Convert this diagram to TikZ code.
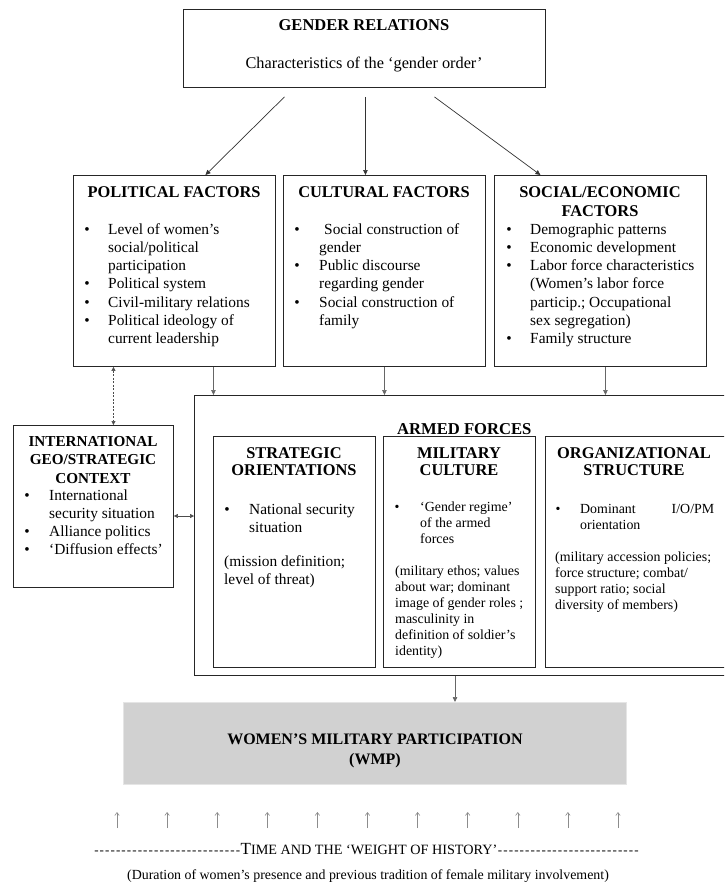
\documentclass[tikz,border=0pt]{standalone}
\usepackage{fontspec}
\setmainfont{Liberation Serif}
\usetikzlibrary{arrows.meta}

\newcommand\bodyf{\fontsize{15.4}{18.3}\selectfont}
\newcommand\smallf{\fontsize{13.9}{16}\selectfont}
\newcommand\titlef{\fontsize{16.4}{17.5}\selectfont\bfseries}
\newcommand\intlf{\fontsize{15.2}{18.5}\selectfont\bfseries}
\newcommand\dashrun[1]{\hbox to #1{\fontsize{13}{13}\selectfont\xleaders\hbox{\kern0.55pt-\kern0.55pt}\hfill}}

\begin{document}
\begin{tikzpicture}[x=1pt,y=-1pt,
  box/.style={draw=black!85, line width=0.9pt, inner sep=0pt, anchor=north west},
  txt/.style={inner sep=0pt, anchor=base west, align=left, font=\bodyf},
  stxt/.style={inner sep=0pt, anchor=base west, align=left, font=\smallf},
  ttl/.style={inner sep=0pt, anchor=base, align=center, font=\titlef},
  bul/.style={inner sep=0pt, anchor=base, font=\bodyf},
  sbul/.style={inner sep=0pt, anchor=base, font=\smallf},
  arr/.style={-{Triangle[length=5pt,width=4.5pt]}, line width=0.7pt, draw=black!80},
  varr/.style={-{Triangle[length=5pt,width=4.5pt]}, line width=0.7pt, draw=black!60},
  darr/.style={{Triangle[length=4pt,width=4pt]}-{Triangle[length=4pt,width=4pt]}, line width=0.5pt, draw=black!70},
  uarr/.style={-{Straight Barb[length=3pt,width=4.5pt]}, line width=0.6pt, draw=black!45},
]
\useasboundingbox (0,0) rectangle (724,884);
\clip (0,0) rectangle (724,884);

% (multi-line text nodes are placed by the baseline of their LAST line)

% ---------------- boxes ----------------
\node[box, minimum width=362pt, minimum height=78pt] (gender) at (183,9) {};
\node[box, minimum width=202pt, minimum height=191pt] (pol) at (73,175) {};
\node[box, minimum width=202pt, minimum height=191pt] (cul) at (283,175) {};
\node[box, minimum width=212pt, minimum height=191pt] (soc) at (494,175) {};
\node[box, minimum width=160pt, minimum height=162pt] (intl) at (13,425) {};
\node[box, minimum width=540pt, minimum height=280pt] (armed) at (194,395) {};
\node[box, minimum width=162pt, minimum height=231pt] (strat) at (213,436) {};
\node[box, minimum width=152pt, minimum height=231pt] (milc) at (383,436) {};
\node[box, minimum width=185pt, minimum height=231pt] (org) at (545,436) {};
\node[anchor=north west, inner sep=0pt, fill=black!18, draw=black!10, line width=0.6pt,
      minimum width=503pt, minimum height=82pt] (wmp) at (123,702) {};

% ---------------- gender relations ----------------
\node[ttl, font=\fontsize{16.5}{17}\selectfont\bfseries] (gt) at (364,30) {GENDER RELATIONS};
\node[inner sep=0pt, anchor=base, font=\fontsize{16.3}{17}\selectfont] (gs) at (364,68) {Characteristics of the ‘gender order’};

% ---------------- political ----------------
\node[ttl] (polt) at (174,197) {POLITICAL FACTORS};
\node[txt] (poltx) at (108,343.8) {Level of women’s\\social/political\\participation\\Political system\\Civil-military relations\\Political ideology of\\current leadership};
\node[bul] (pb1) at (87,234) {\textbullet};
\node[bul] (pb2) at (87,288.9) {\textbullet};
\node[bul] (pb3) at (87,307.2) {\textbullet};
\node[bul] (pb4) at (87,325.5) {\textbullet};

% ---------------- cultural ----------------
\node[ttl] (cult) at (384,197) {CULTURAL FACTORS};
\node[txt] (cultx) at (319,325.5) {\hspace*{5pt}Social construction of\\gender\\Public discourse\\regarding gender\\Social construction of\\family};
\node[bul] (cb1) at (297,234) {\textbullet};
\node[bul] (cb2) at (297,270.6) {\textbullet};
\node[bul] (cb3) at (297,307.2) {\textbullet};

% ---------------- social/economic ----------------
\node[ttl, font=\fontsize{16.4}{19}\selectfont\bfseries] (soct) at (600,216) {SOCIAL/ECONOMIC\\FACTORS};
\node[txt] (soctx) at (530,343.8) {Demographic patterns\\Economic development\\Labor force characteristics\\(Women’s labor force\\particip.; Occupational\\sex segregation)\\Family structure};
\node[bul] (sb1) at (509,234) {\textbullet};
\node[bul] (sb2) at (509,252.3) {\textbullet};
\node[bul] (sb3) at (509,270.6) {\textbullet};
\node[bul] (sb4) at (509,343.8) {\textbullet};

% ---------------- international ----------------
\node[ttl, font=\intlf] (intlt) at (93,483) {INTERNATIONAL\\GEO/STRATEGIC\\CONTEXT};
\node[txt] (intltx) at (49,554.9) {International\\security situation\\Alliance politics\\‘Diffusion effects’};
\node[bul] (ib1) at (27,500) {\textbullet};
\node[bul] (ib2) at (27,536.6) {\textbullet};
\node[bul] (ib3) at (27,554.9) {\textbullet};

% ---------------- armed forces ----------------
\node[inner sep=0pt, anchor=base west, font=\fontsize{16.6}{17}\selectfont\bfseries] (armt) at (397,434) {ARMED FORCES};

% strategic
\node[ttl] (stt) at (294,475.5) {STRATEGIC\\ORIENTATIONS};
\node[txt] (sttx) at (249,532.3) {National security\\situation};
\node[bul] (stb) at (227,514) {\textbullet};
\node[txt] (stp) at (224,584.3) {(mission definition;\\level of threat)};

% military culture
\node[ttl] (mct) at (459,475.5) {MILITARY\\CULTURE};
\node[stxt] (mctx) at (420,543) {‘Gender regime’\\of the armed\\forces};
\node[sbul] (mcb) at (397,511) {\textbullet};
\node[stxt] (mcp) at (395,655) {(military ethos; values\\about war; dominant\\image of gender roles ;\\masculinity in\\definition of soldier’s\\identity)};

% organizational structure
\node[ttl] (ost) at (634,475.5) {ORGANIZATIONAL\\STRUCTURE};
\node[stxt] (ostx) at (580,529) {\hbox to 134pt{Dominant\hfill I/O/PM}\\orientation};
\node[sbul] (osb) at (558,513) {\textbullet};
\node[stxt] (osp) at (555,609) {(military accession policies;\\force structure; combat/\\support ratio; social\\diversity of members)};

% ---------------- WMP ----------------
\node[ttl, font=\fontsize{16}{20}\selectfont\bfseries] (wmpt) at (375,764) {WOMEN’S MILITARY PARTICIPATION\\(WMP)};

% ---------------- time ----------------
\node[inner sep=0pt, anchor=base] (time) at (366.5,854)
  {\dashrun{147pt}{\fontsize{17}{17}\selectfont T}{\fontsize{14.2}{14}\selectfont IME AND THE ‘WEIGHT OF HISTORY’}\dashrun{142pt}};
\node[inner sep=0pt, anchor=base, font=\fontsize{13.9}{14}\selectfont] (dur) at (368,879)
  {(Duration of women’s presence and previous tradition of female military involvement)};
\foreach \i in {0,...,10} {
  \coordinate (ua\i) at (117+50.1*\i,828);
  \coordinate (ub\i) at (117+50.1*\i,812);
  \draw[uarr] (ua\i) -- (ub\i);
}

% ---------------- connectors ----------------
\draw[arr] ([shift={(-80pt,-9pt)}]gender.south) -- ([xshift=31pt]pol.north);
\draw[arr] ([shift={(1pt,-9pt)}]gender.south) -- ([xshift=-19pt]cul.north);
\draw[arr] ([shift={(70pt,-9pt)}]gender.south) -- ([xshift=-60pt]soc.north);

\draw[varr] ([xshift=39pt]pol.south) -- ([xshift=39pt]pol.south |- armed.north);
\draw[varr] (cul.south) -- (cul.south |- armed.north);
\draw[varr] ([xshift=5pt]soc.south) -- ([xshift=5pt]soc.south |- armed.north);

\draw[darr, dash pattern=on 2pt off 1.5pt] ([xshift=-61pt]pol.south) -- ([xshift=-61pt]pol.south |- intl.north);
\draw[darr] (intl.east |- 0,516) -- (armed.west |- 0,516);

\draw[varr] (armed.south -| 455,0) -- (wmp.north -| 455,0);
\end{tikzpicture}
\end{document}
